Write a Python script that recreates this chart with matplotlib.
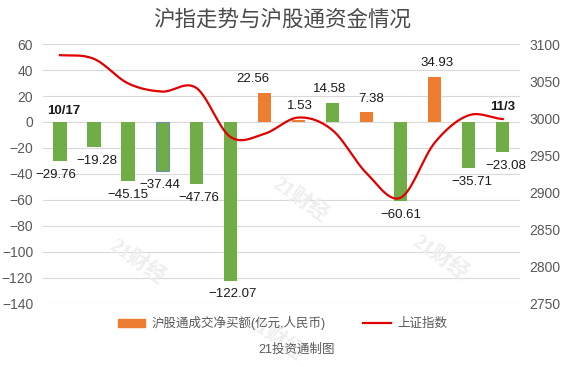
import numpy as np
import matplotlib
matplotlib.use("Agg")
import matplotlib.pyplot as plt
from matplotlib.patches import Patch
from matplotlib.lines import Line2D

plt.rcParams['font.family'] = ['Liberation Sans', 'Noto Sans CJK SC']
plt.rcParams['axes.unicode_minus'] = True

# data
dates = ['10/17', '10/18', '10/19', '10/22', '10/23', '10/24', '10/25',
         '10/26', '10/29', '10/30', '10/31', '11/1', '11/2', '11/3']
flow = [-29.76, -19.28, -45.15, -37.44, -47.76, -122.07, 22.56,
        1.53, 14.58, 7.38, -60.61, 34.93, -35.71, -23.08]
bar_colors = ['g', 'g', 'g', 'g', 'g', 'g', 'o',
              'o', 'g', 'o', 'g', 'o', 'g', 'g']
index = [3085, 3080, 3047, 3036, 3041, 2975, 2979,
         3001, 2984, 2926, 2893, 2967, 3004, 2999]

GREEN = '#70AD47'
ORANGE = '#ED7D31'
RED = '#E00000'
GRAY = '#595959'


def catmull(x, y, n=30):
    # smooth line through the points (like excel's smoothed line)
    x = np.asarray(x, float)
    y = np.asarray(y, float)
    px = np.concatenate([[2*x[0]-x[1]], x, [2*x[-1]-x[-2]]])
    py = np.concatenate([[y[0]], y, [y[-1]]])
    xs, ys = [], []
    t = np.linspace(0, 1, n)
    for i in range(1, len(px)-2):
        for p, out in ((px, xs), (py, ys)):
            p0, p1, p2, p3 = p[i-1], p[i], p[i+1], p[i+2]
            out.extend(0.5*((2*p1) + (-p0+p2)*t + (2*p0-5*p1+4*p2-p3)*t**2
                            + (-p0+3*p1-3*p2+p3)*t**3))
    return np.array(xs), np.array(ys)


fig = plt.figure(figsize=(5.65, 3.67), dpi=100)
ax = fig.add_axes([0.076, 0.172, 0.844, 0.708])
ax2 = ax.twinx()

x = np.arange(len(flow))
cols = [GREEN if c == 'g' else ORANGE for c in bar_colors]
bars = ax.bar(x, flow, width=0.39, color=cols, zorder=3)
bars[3].set_edgecolor('#6F8FAF')
bars[3].set_linewidth(0.8)

ax.set_xlim(-0.5, len(flow)-0.5)
ax.set_ylim(-140, 60)
ax.set_yticks(range(-140, 61, 20))
ax.grid(axis='y', color='#D9D9D9', linewidth=0.8, zorder=0)
ax.set_xticks([])
for s in ax.spines.values():
    s.set_visible(False)
for s in ax2.spines.values():
    s.set_visible(False)
ax.tick_params(axis='y', length=0, labelsize=10, labelcolor=GRAY, pad=7)

# value labels
dx = [-3, 2, 0, -2, 2, 2, -8, 1, -2, 3, 0, 2, 2, 2]
for i, v in enumerate(flow):
    txt = f'{v:.2f}'.replace('-', '\u2212')
    off = -10 if v < 0 else 10
    ax.annotate(txt, (i, v), xytext=(dx[i], off), textcoords='offset points',
                ha='center', va='center', fontsize=9.5, color='#1a1a1a',
                zorder=5)

ax.text(0.12, 4, dates[0], ha='center', va='bottom', fontsize=9.5,
        fontweight='bold', color='#1a1a1a')
ax.text(13.0, 7, dates[-1], ha='center', va='bottom', fontsize=9.5,
        fontweight='bold', color='#1a1a1a')

sx, sy = catmull(x, index)
ax2.plot(sx, sy, color=RED, linewidth=1.6, zorder=4)
ax2.set_ylim(2750, 3100)
ax2.set_yticks(range(2750, 3101, 50))
ax2.tick_params(axis='y', length=0, labelsize=10, labelcolor=GRAY, pad=7)

fig.suptitle('沪指走势与沪股通资金情况', y=0.975, fontsize=15.5, color='#4a4a4a')

handles = [Patch(color=ORANGE), Line2D([], [], color=RED, linewidth=1.6)]
fig.legend(handles, ['沪股通成交净买额(亿元,人民币)', '上证指数'], ncol=2,
           loc='center', bbox_to_anchor=(0.5, 0.12), frameon=False,
           fontsize=9, labelcolor=GRAY, handlelength=2.2, handleheight=0.6,
           columnspacing=3, handletextpad=0.5)
fig.text(0.525, 0.046, '21投资通制图', ha='center', va='center', fontsize=9,
         color=GRAY)

# watermarks
for wx, wy in [(137, 262), (300, 200), (440, 258), (275, 338)]:
    fig.text(wx/565, 1-wy/367, '21财经', rotation=-35, ha='center', va='center',
             fontsize=15, fontweight='bold', color='#EEEEEE', zorder=0,
             family=['Liberation Serif', 'Noto Sans CJK SC'])

fig.savefig('out.png', dpi=100)
